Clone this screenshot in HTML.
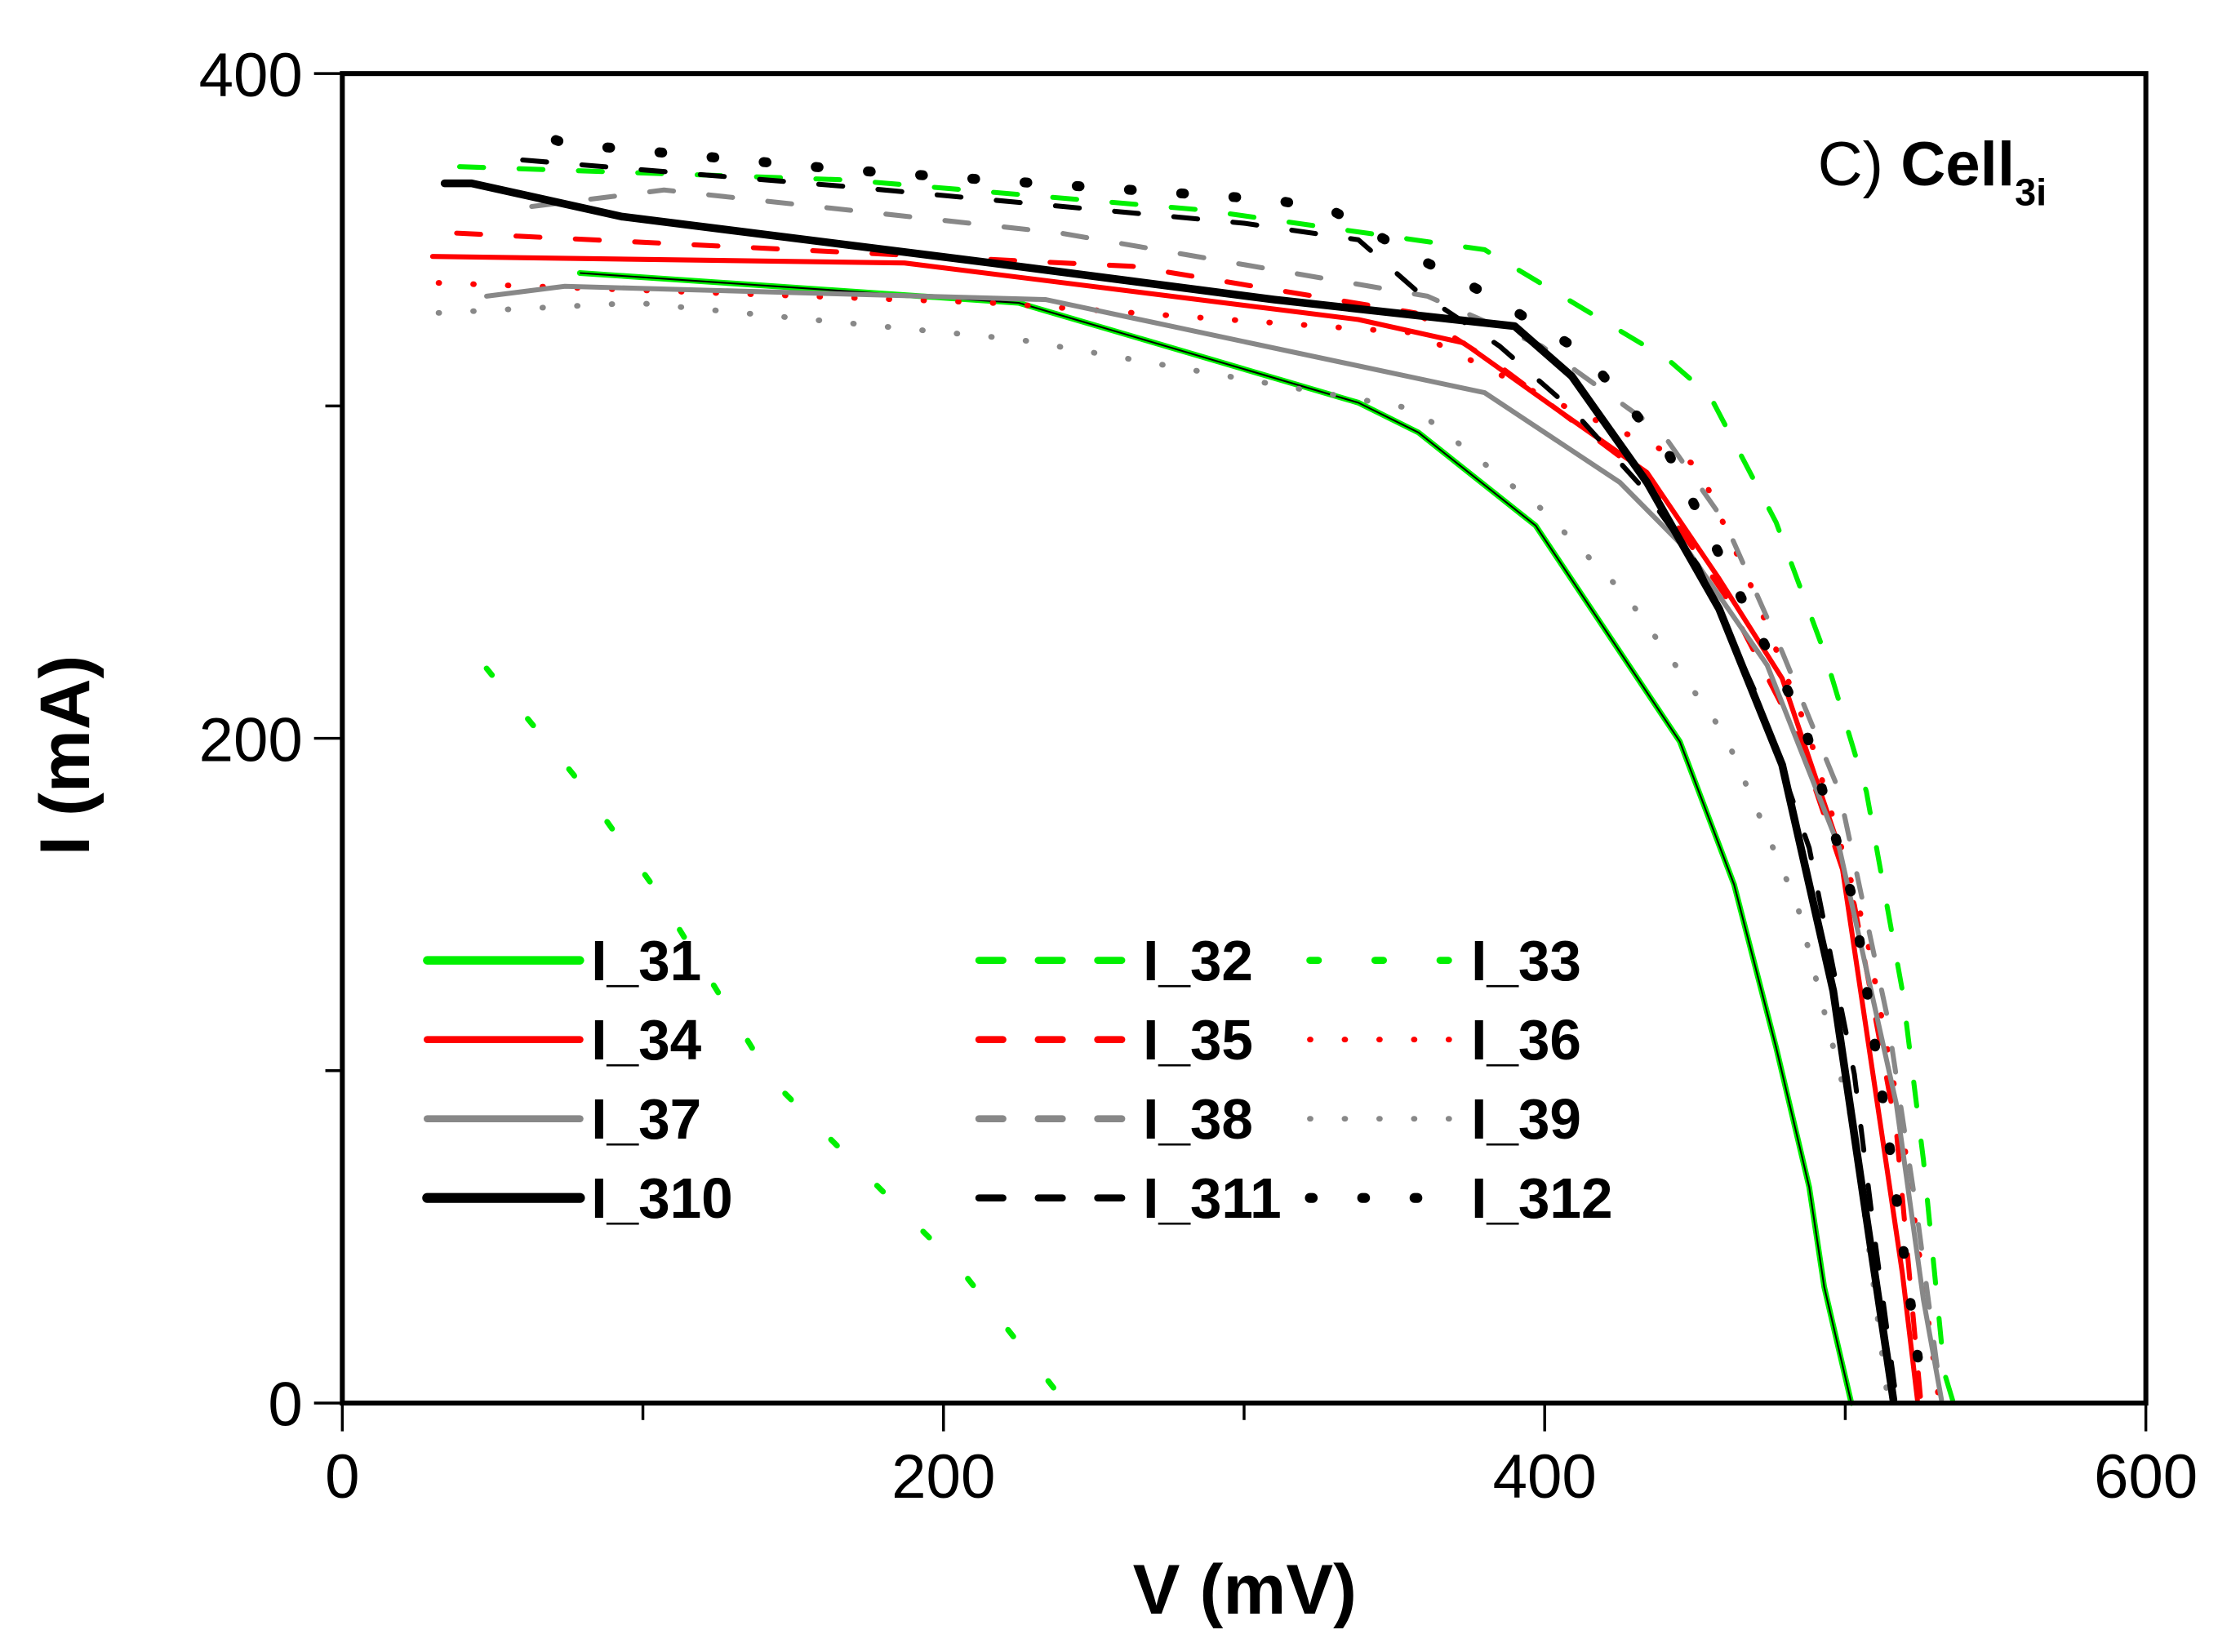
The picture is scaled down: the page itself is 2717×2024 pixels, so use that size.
<!DOCTYPE html>
<html><head><meta charset="utf-8"><style>
html,body{margin:0;padding:0;background:#fff;}
svg{display:block;font-family:"Liberation Sans",Arial,sans-serif;}
</style></head><body>
<svg id="chart" width="2717" height="2024" viewBox="0 0 1568 1168" xmlns="http://www.w3.org/2000/svg">
<g id="series"></g>
<g id="axes"></g>
<g id="legend"></g>
<text x="1285" y="131" font-size="44">C) <tspan font-weight="bold">Cell</tspan><tspan font-weight="bold" font-size="27" dy="14">3i</tspan></text>
<text x="880" y="1141" font-size="50" font-weight="bold" text-anchor="middle">V (mV)</text>
<text transform="translate(63,534) rotate(-90)" font-size="50" font-weight="bold" text-anchor="middle">I (mA)</text>
</svg>
<script>
const xTicks = [0, 200, 400, 600];
const xMinor = [100, 300, 500];
const yTicks = [0, 200, 400];
const yMinor = [100, 300];

const v31 = [79,225,338,358,397,445,463,477,488,493,502];
const i31 = [340,331,301,292,264,199,156,107,65,35,0];
const v32 = [39,168,286,380,441,455,477,493,507,519,526,533,536];
const i32 = [372,368,359,347,314,303,265,226,184,124,73,9,0];
const v33 = [48,77,103,143,175,205,238];
const i33 = [221,189,156,97,68,41,3];
const v34 = [30,187,338,373,404,434,458,479,498,512,519,524];
const i34 = [345,343,326,319,299,280,248,218,167,82,39,1];
const v35 = [38,263,357,385,432,460,484,503,517,525];
const i35 = [352,342,328,312,280,243,201,150,82,2];
const v36 = [32,216,357,404,451,470,488,507,519,531];
const i36 = [337,331,322,301,282,243,201,141,82,2];
const v37 = [48,74,234,380,425,448,474,498,517,526,532];
const i37 = [333,336,332,304,277,256,222,167,90,31,1];
const v38 = [63,107,239,361,399,439,460,479,498,514,524,532];
const i38 = [360,365,352,333,318,292,265,226,184,116,56,1];
const v39 = [32,98,225,357,399,427,460,484,503,514];
const i39 = [328,331,320,299,269,243,201,150,82,2];
const v310 = [34,43,93,216,310,390,409,434,458,479,496,507,516];
const i310 = [367,367,357,343,332,324,309,277,239,192,124,56,1];
const v311 = [60,168,300,338,357,385,409,432,451,470,488,503,510,517];
const i311 = [374,366,355,350,335,318,299,276,252,214,167,99,48,1];
const v312 = [71,74,168,310,329,361,380,413,441,465,486,503,514,526];
const i312 = [380,379,371,362,359,343,334,316,286,243,205,150,82,1];

const NS = "http://www.w3.org/2000/svg";
const X0 = 242, X1 = 1517, Y0 = 992, Y1 = 52;
function sx(v){ return X0 + (v/600)*(X1-X0); }
function sy(i){ return Y0 - (i/400)*(Y0-Y1); }
function mk(tag, attrs, parent){ const e=document.createElementNS(NS,tag); for(const k in attrs) e.setAttribute(k,attrs[k]); parent.appendChild(e); return e; }

const GREEN="#00f000", RED="#ff0000", GRAY="#888888", BLACK="#000000";
const styles = [
 {n:"I_31", v:v31, i:i31, c:GREEN, w:4, d:"", lw:6},
 {n:"I_32", v:v32, i:i32, c:GREEN, w:3.5, d:"17 25", lw:5},
 {n:"I_33", v:v33, i:i33, c:GREEN, w:4, d:"6 40", lw:5},
 {n:"I_34", v:v34, i:i34, c:RED, w:3.5, d:"", lw:5},
 {n:"I_35", v:v35, i:i35, c:RED, w:3.5, d:"17 25", lw:5},
 {n:"I_36", v:v36, i:i36, c:RED, w:4, d:"0.5 24", lw:4},
 {n:"I_37", v:v37, i:i37, c:GRAY, w:3.5, d:"", lw:5},
 {n:"I_38", v:v38, i:i38, c:GRAY, w:3.5, d:"17 25", lw:5},
 {n:"I_39", v:v39, i:i39, c:GRAY, w:4, d:"0.5 24", lw:4},
 {n:"I_310", v:v310, i:i310, c:BLACK, w:5.5, d:"", lw:7},
 {n:"I_311", v:v311, i:i311, c:BLACK, w:3.5, d:"17 25", lw:5},
 {n:"I_312", v:v312, i:i312, c:BLACK, w:7, d:"2 35", lw:7}
];

const sg = document.getElementById("series");
styles.forEach(s=>{
  const pts = s.v.map((v,k)=>sx(v).toFixed(1)+","+sy(s.i[k]).toFixed(1)).join(" ");
  const p = mk("polyline",{points:pts,fill:"none",stroke:s.c,"stroke-width":s.w,"stroke-linecap":"round","stroke-linejoin":"round"},sg);
  if(s.d) p.setAttribute("stroke-dasharray",s.d);
  
  
  if(s.n==="I_31"){
    const q = mk("polyline",{points:pts,fill:"none",stroke:"#000","stroke-width":1.2,"stroke-linejoin":"round"},sg);
    
    
  }
});

const ag = document.getElementById("axes");
const frame = mk("rect",{x:X0,y:Y1,width:X1-X0,height:Y0-Y1,fill:"none",stroke:"#000","stroke-width":3.5},ag);


xTicks.forEach(t=>{
  const l = mk("line",{x1:sx(t),x2:sx(t),y1:Y0,y2:Y0+20,stroke:"#000","stroke-width":2},ag);
  
  
  const tx = mk("text",{x:sx(t),y:Y0+67,"font-size":44,"text-anchor":"middle"},ag);
  tx.textContent = t;
  
  
});
xMinor.forEach(t=>{
  const l = mk("line",{x1:sx(t),x2:sx(t),y1:Y0,y2:Y0+12,stroke:"#000","stroke-width":2},ag);
  
  
});
yTicks.forEach(t=>{
  const l = mk("line",{x1:X0-20,x2:X0,y1:sy(t),y2:sy(t),stroke:"#000","stroke-width":2},ag);
  
  
  const tx = mk("text",{x:X0-28,y:sy(t)+16,"font-size":44,"text-anchor":"end"},ag);
  tx.textContent = t;
  
  
});
yMinor.forEach(t=>{
  const l = mk("line",{x1:X0-12,x2:X0,y1:sy(t),y2:sy(t),stroke:"#000","stroke-width":2},ag);
  
  
});

const lg = document.getElementById("legend");
const colX = [[302,410,418],[692,800,808],[926,1030,1040]];
const rowY = [679,735,791,847];
styles.forEach((s,k)=>{
  const c = colX[k%3], y = rowY[Math.floor(k/3)];
  const l = mk("line",{x1:c[0],x2:c[1],y1:y,y2:y,stroke:s.c,"stroke-width":s.lw,"stroke-linecap":"round"},lg);
  if(s.d) l.setAttribute("stroke-dasharray",s.d);
  
  
  const t = mk("text",{x:c[2],y:y+14,"font-size":40,"font-weight":"bold"},lg);
  t.textContent = s.n;
  
  
});
</script>
</body></html>
